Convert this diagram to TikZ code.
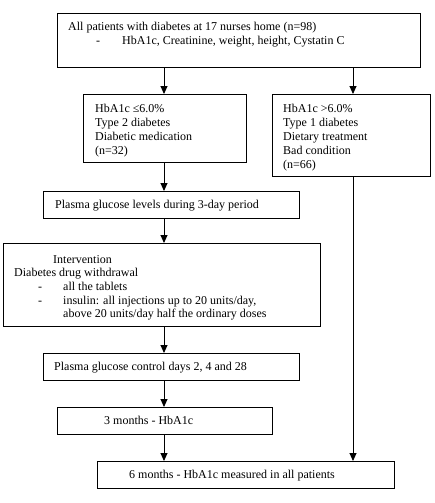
\documentclass[tikz,border=0pt]{standalone}
\usepackage{fontspec}
\setmainfont{Liberation Serif}
\usetikzlibrary{arrows.meta}
\begin{document}
\begin{tikzpicture}[x=1pt,y=-1pt,
  box/.style={draw,line width=0.9pt,inner sep=0pt,anchor=north west},
  txt/.style={anchor=base west,inner sep=0pt,font=\fontsize{12}{14}\selectfont},
  arr/.style={line width=0.9pt,-{Triangle[length=8pt,width=7pt]}}]
\useasboundingbox (0,0) rectangle (434,503);
% boxes
\node[box,minimum width=363,minimum height=54] (top) at (57,13) {};
\node[box,minimum width=163,minimum height=68] (b2) at (83,94) {};
\node[box,minimum width=158,minimum height=82] (b3) at (272,94) {};
\node[box,minimum width=256,minimum height=27] (pg) at (43,191) {};
\node[box,minimum width=317,minimum height=83] (iv) at (3,243) {};
\node[box,minimum width=256,minimum height=27] (pc) at (43,353) {};
\node[box,minimum width=215,minimum height=27] (m3) at (57,407) {};
\node[box,minimum width=297,minimum height=27] (m6) at (97,461) {};
% texts
\node[txt] (t1) at (68,31) {All patients with diabetes at 17 nurses home (n=98)};
\node[txt] (t1a) at (96,45) {-};
\node[txt] (t1b) at (122,45) {HbA1c, Creatinine, weight, height, Cystatin C};
\node[txt] (t2a) at (95,112) {HbA1c ≤6.0\%};
\node[txt] (t2b) at (95,126) {Type 2 diabetes};
\node[txt] (t2c) at (95,140) {Diabetic medication};
\node[txt] (t2d) at (95,154) {(n=32)};
\node[txt] (t3a) at (283,112) {HbA1c >6.0\%};
\node[txt] (t3b) at (283,126) {Type 1 diabetes};
\node[txt] (t3c) at (283,140) {Dietary treatment};
\node[txt] (t3d) at (283,154) {Bad condition};
\node[txt] (t3e) at (283,168) {(n=66)};
\node[txt] (t4) at (55,208) {Plasma glucose levels during 3-day period};
\node[txt] (t5) at (53,263) {Intervention};
\node[txt] (t6) at (14,276) {Diabetes drug withdrawal};
\node[txt] (t7) at (38,290) {-};
\node[txt] (t8) at (63,290) {all the tablets};
\node[txt] (t9) at (38,304) {-};
\node[txt] (t10) at (63,304) {insulin: all injections up to 20 units/day,};
\node[txt] (t11) at (63,317) {above 20 units/day half the ordinary doses};
\node[txt] (t12) at (54,370) {Plasma glucose control days 2, 4 and 28};
\node[txt] (t13) at (104,424) {3 months - HbA1c};
\node[txt] (t14) at (129,478) {6 months - HbA1c measured in all patients};
% connectors
\coordinate (cl) at (164,0);
\coordinate (cr) at (353,0);
\draw[arr] (top.south -| cl) -- (b2.north -| cl);
\draw[arr] (top.south -| cr) -- (b3.north -| cr);
\draw[arr] (b2.south -| cl) -- (pg.north -| cl);
\draw[arr] (pg.south -| cl) -- (iv.north -| cl);
\draw[arr] (iv.south -| cl) -- (pc.north -| cl);
\draw[arr] (pc.south -| cl) -- (m3.north -| cl);
\draw[arr] (m3.south -| cl) -- (m6.north -| cl);
\draw[arr] (b3.south -| cr) -- (m6.north -| cr);
\end{tikzpicture}
\end{document}
